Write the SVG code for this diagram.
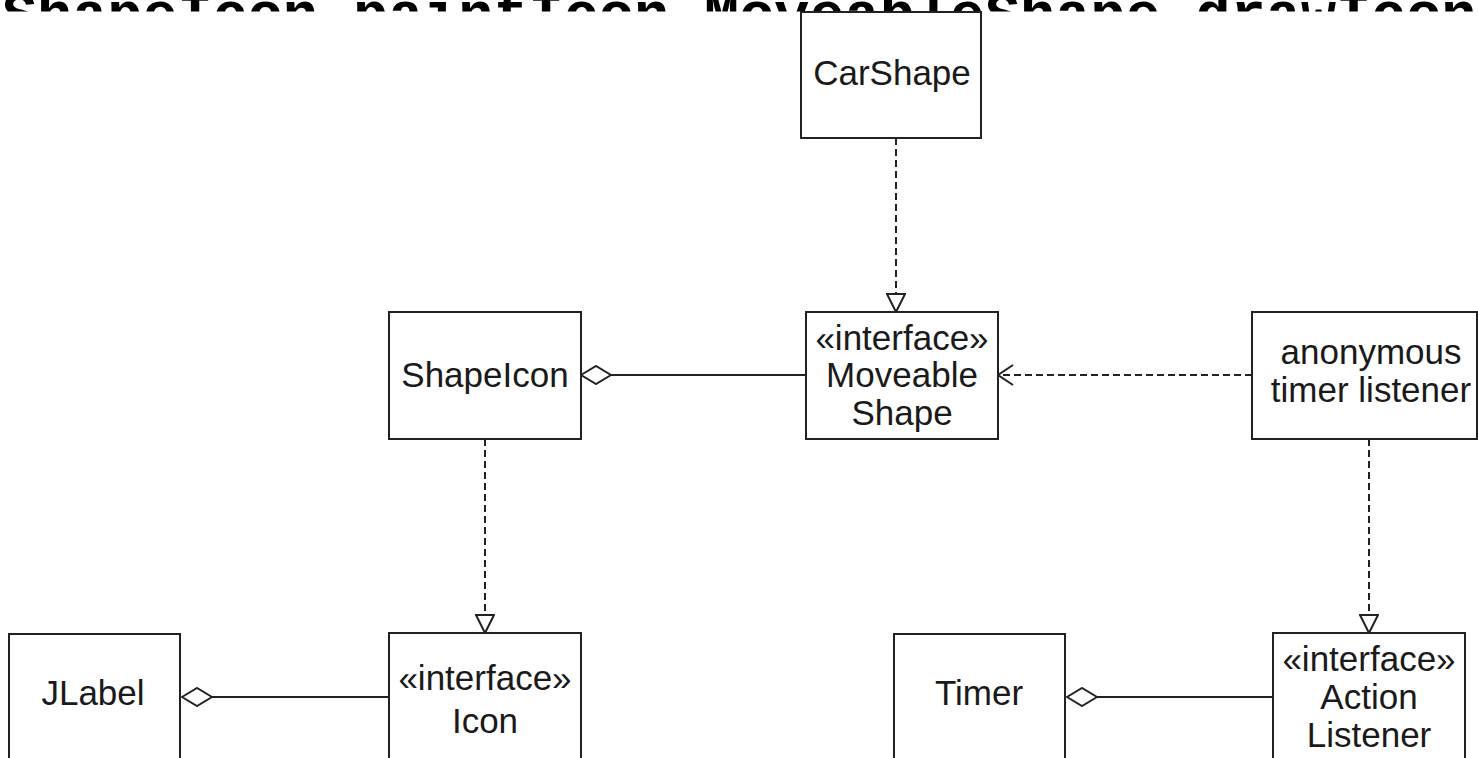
<svg xmlns="http://www.w3.org/2000/svg" width="1478" height="758" viewBox="0 0 1478 758">
  <style>
    .box { fill: #ffffff; stroke: #222222; stroke-width: 2; }
    .lbl { font-family: "Liberation Sans", Arial, Helvetica, sans-serif; font-size: 35px; fill: #1a1a1a; text-anchor: middle; }
    .solid { fill: none; stroke: #222222; stroke-width: 2; }
    .dash { fill: none; stroke: #222222; stroke-width: 2; stroke-dasharray: 7 4; }
    .code { font-family: "Liberation Mono", "Courier New", monospace; font-weight: bold; font-size: 58.5px; fill: #000000; }
  </style>
  <defs>
    <clipPath id="topclip">
      <rect x="0" y="0" width="1478" height="11.5"/>
    </clipPath>
    <marker id="diamond" markerUnits="userSpaceOnUse" viewBox="-1 -1 32 20" markerWidth="32" markerHeight="20" refX="0" refY="9" orient="auto">
      <path d="M0,9 L15,0 L30,9 L15,18 Z" fill="#ffffff" stroke="#222222" stroke-width="2"/>
    </marker>
    <marker id="tri" markerUnits="userSpaceOnUse" viewBox="-1 -1 20 20" markerWidth="20" markerHeight="20" refX="18" refY="9" orient="auto">
      <path d="M0,0 L18,9 L0,18 Z" fill="#ffffff" stroke="#222222" stroke-width="2" stroke-linejoin="miter"/>
    </marker>
    <marker id="open" markerUnits="userSpaceOnUse" viewBox="-1 -1 18 22" markerWidth="18" markerHeight="22" refX="15" refY="10" orient="auto">
      <path d="M0,0 L15,10 L0,20" fill="none" stroke="#222222" stroke-width="2"/>
    </marker>
  </defs>

  <rect x="0" y="0" width="1478" height="758" fill="#ffffff"/>

  <g id="header" clip-path="url(#topclip)">
    <text class="code" x="2" y="33">ShapeIcon paintIcon MoveableShape drawIcon</text>
  </g>

  <g id="connectors">
    <path class="dash" d="M896,138 L896,312" marker-end="url(#tri)"/>
    <path class="solid" d="M581,375 L806,375" marker-start="url(#diamond)"/>
    <path class="dash" d="M1252,375 L998,375" marker-end="url(#open)"/>
    <path class="dash" d="M485,439 L485,633" marker-end="url(#tri)"/>
    <path class="dash" d="M1369,439 L1369,633" marker-end="url(#tri)"/>
    <path class="solid" d="M182,697 L389,697" marker-start="url(#diamond)"/>
    <path class="solid" d="M1067,697 L1273,697" marker-start="url(#diamond)"/>
  </g>

  <g id="carshape">
    <rect class="box" x="801" y="12" width="180" height="126"/>
    <text class="lbl" x="892" y="85">CarShape</text>
  </g>

  <g id="shapeicon">
    <rect class="box" x="389" y="312" width="192" height="127"/>
    <text class="lbl" x="485" y="387">ShapeIcon</text>
  </g>

  <g id="moveableshape">
    <rect class="box" x="806" y="312" width="192" height="127"/>
    <text class="lbl" x="902" y="350">«interface»</text>
    <text class="lbl" x="902" y="387">Moveable</text>
    <text class="lbl" x="902" y="425">Shape</text>
  </g>

  <g id="anonymous">
    <rect class="box" x="1252" y="312" width="225" height="127"/>
    <text class="lbl" x="1371" y="364">anonymous</text>
    <text class="lbl" x="1371" y="402">timer listener</text>
  </g>

  <g id="jlabel">
    <rect class="box" x="9" y="634" width="171" height="140"/>
    <text class="lbl" x="93" y="705">JLabel</text>
  </g>

  <g id="icon">
    <rect class="box" x="389" y="633" width="192" height="140"/>
    <text class="lbl" x="485" y="690">«interface»</text>
    <text class="lbl" x="485" y="733">Icon</text>
  </g>

  <g id="timer">
    <rect class="box" x="894" y="634" width="171" height="140"/>
    <text class="lbl" x="979" y="705">Timer</text>
  </g>

  <g id="actionlistener">
    <rect class="box" x="1273" y="633" width="192" height="140"/>
    <text class="lbl" x="1369" y="671">«interface»</text>
    <text class="lbl" x="1369" y="709">Action</text>
    <text class="lbl" x="1369" y="747">Listener</text>
  </g>
</svg>
